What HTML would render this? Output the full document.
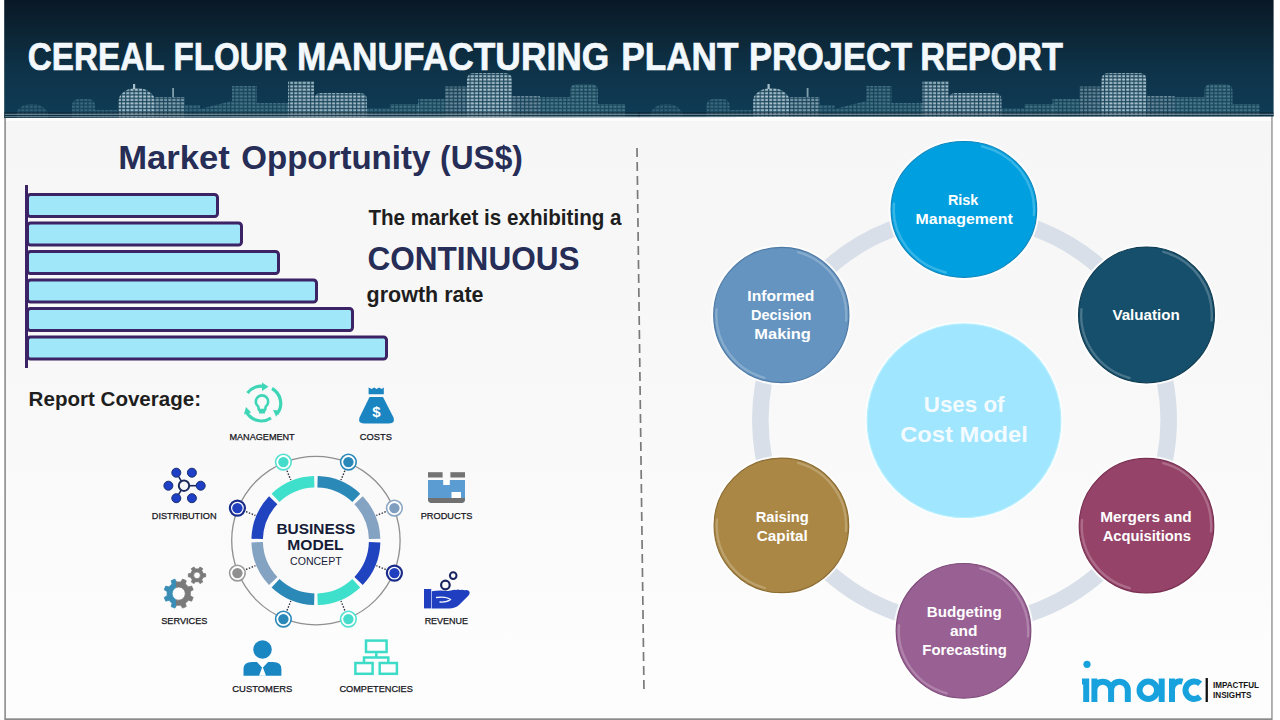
<!DOCTYPE html>
<html><head><meta charset="utf-8">
<style>
html,body{margin:0;padding:0;width:1280px;height:720px;overflow:hidden;background:#fff;}
svg{display:block;}
text{font-family:"Liberation Sans",sans-serif;}
</style></head>
<body>
<svg width="1280" height="720" viewBox="0 0 1280 720">


<defs><linearGradient id="bg" x1="0" y1="0" x2="0" y2="1">
<stop offset="0.15" stop-color="#f6f6f6"/><stop offset="0.5" stop-color="#f8f8f8"/><stop offset="0.8" stop-color="#fbfbfb"/><stop offset="0.9" stop-color="#fdfdfd"/></linearGradient></defs>
<rect x="5" y="0" width="1267" height="720" fill="url(#bg)"/>
<rect x="5" y="116" width="1267" height="5" fill="#fdfdfd"/>
<rect x="4.3" y="116" width="1.6" height="604" fill="#8c8c8c"/>
<rect x="1271.2" y="116" width="1.5" height="604" fill="#999"/>
<rect x="5" y="718.3" width="1267" height="1.7" fill="#8a8a8a"/>

<defs>
<linearGradient id="hdr" x1="0" y1="0" x2="0" y2="1">
  <stop offset="0" stop-color="#0a1826"/>
  <stop offset="0.3" stop-color="#0c2636"/>
  <stop offset="0.6" stop-color="#0e3349"/>
  <stop offset="1" stop-color="#0f3c56"/>
</linearGradient>
<pattern id="winB" x="0" y="0" width="4.2" height="3.4" patternUnits="userSpaceOnUse">
<rect width="4.2" height="3.4" fill="#3e6f82" opacity="0.4"/>
<rect x="0.3" y="0.4" width="3" height="1.9" fill="#d2e5ec"/>
</pattern>
<pattern id="winD" x="0" y="0" width="4.2" height="3.4" patternUnits="userSpaceOnUse">
<rect width="4.2" height="3.4" fill="#2f6676" opacity="0.5"/>
<rect x="0.3" y="0.4" width="3" height="1.9" fill="#7fb2bc"/>
</pattern>
</defs>
<path d="M4.2 0 H1273.6 V116.4 L4.2 117.9 Z" fill="url(#hdr)"/>
<clipPath id="hclip"><path d="M4.2 0 H1273.6 V116.4 L4.2 117.9 Z"/></clipPath>
<g clip-path="url(#hclip)">
<g id="skyl">
<path d="M16.0 118 V115.2 A16.0 11.2 0 0 1 48.0 115.2 V118 Z" fill="url(#winD)" opacity="0.34"/>
<path d="M72.0 118 V106.0 Q72.0 99.0 79.0 99.0 H88.0 Q95.0 99.0 95.0 106.0 V118 Z" fill="url(#winD)" opacity="0.42"/>
<path d="M95.0 118 V110.0 H118.0 V118 Z" fill="url(#winD)" opacity="0.42"/>
<path d="M118.7 118 V100.6 A18.0 12.6 0 0 1 154.7 100.6 V118 Z" fill="url(#winB)" opacity="0.85"/>
<path d="M155.0 118 V97.0 H185.0 V118 Z" fill="url(#winB)" opacity="0.65"/>
<path d="M185.0 118 V105.0 H200.0 V118 Z" fill="url(#winD)" opacity="0.42"/>
<path d="M200.0 118 V109.0 L232.0 101.0 V118 Z" fill="url(#winD)" opacity="0.47"/>
<path d="M232.0 118 V86.0 H257.0 V118 Z" fill="url(#winD)" opacity="0.52"/>
<path d="M257.0 118 V103.0 H288.0 V118 Z" fill="url(#winD)" opacity="0.50"/>
<path d="M288.0 118 V81.0 H314.0 V118 Z" fill="url(#winB)" opacity="0.80"/>
<path d="M314.0 118 V100.0 Q314.0 93.0 321.0 93.0 H360.0 Q367.0 93.0 367.0 100.0 V118 Z" fill="url(#winB)" opacity="0.80"/>
<path d="M367.0 118 V108.0 H390.0 V118 Z" fill="url(#winD)" opacity="0.47"/>
<path d="M390.0 118 V104.0 H420.0 V118 Z" fill="url(#winD)" opacity="0.50"/>
<path d="M418.0 118 V99.0 H445.0 V118 Z" fill="url(#winD)" opacity="0.52"/>
<path d="M445.0 118 V86.5 H467.0 V118 Z" fill="url(#winB)" opacity="0.50"/>
<path d="M467.0 118 V80.0 Q467.0 73.0 474.0 73.0 H505.0 Q512.0 73.0 512.0 80.0 V118 Z" fill="url(#winB)" opacity="0.85"/>
<path d="M512.0 118 V96.0 H540.0 V118 Z" fill="url(#winB)" opacity="0.50"/>
<path d="M540.0 118 V97.0 H570.0 V118 Z" fill="url(#winD)" opacity="0.57"/>
<path d="M570.0 118 V91.0 Q570.0 84.0 577.0 84.0 H591.0 Q598.0 84.0 598.0 91.0 V118 Z" fill="url(#winD)" opacity="0.57"/>
<path d="M598.0 118 V104.0 H625.0 V118 Z" fill="url(#winD)" opacity="0.52"/>
<rect x="133" y="84" width="2.2" height="5" fill="#cfe2ea" opacity="0.8"/>
<rect x="172.2" y="88" width="1.8" height="9" fill="#cfe2ea" opacity="0.6"/>
<rect x="4" y="112" width="636" height="6" fill="#0a1c28" opacity="0.45"/>
<rect x="5" y="113.8" width="635" height="1.2" fill="#a8c0cc" opacity="0.55"/>
<rect x="5" y="116" width="635" height="1.2" fill="#a8c0cc" opacity="0.5"/>
</g>
<use href="#skyl" x="634.5"/>
</g>

<text x="27.79" y="69.70" font-size="39" font-weight="bold" fill="#f2f8fb" textLength="136.75" lengthAdjust="spacingAndGlyphs" stroke="#f2f8fb" stroke-width="0.7">CEREAL</text>
<text x="173.45" y="69.70" font-size="39" font-weight="bold" fill="#f2f8fb" textLength="114.06" lengthAdjust="spacingAndGlyphs" stroke="#f2f8fb" stroke-width="0.7">FLOUR</text>
<text x="297.08" y="69.70" font-size="39" font-weight="bold" fill="#f2f8fb" textLength="312.16" lengthAdjust="spacingAndGlyphs" stroke="#f2f8fb" stroke-width="0.7">MANUFACTURING</text>
<text x="621.19" y="69.70" font-size="39" font-weight="bold" fill="#f2f8fb" textLength="117.31" lengthAdjust="spacingAndGlyphs" stroke="#f2f8fb" stroke-width="0.7">PLANT</text>
<text x="749.04" y="69.70" font-size="39" font-weight="bold" fill="#f2f8fb" textLength="163.04" lengthAdjust="spacingAndGlyphs" stroke="#f2f8fb" stroke-width="0.7">PROJECT</text>
<text x="920.16" y="69.70" font-size="39" font-weight="bold" fill="#f2f8fb" textLength="142.79" lengthAdjust="spacingAndGlyphs" stroke="#f2f8fb" stroke-width="0.7">REPORT</text>
<rect x="25" y="185" width="3" height="183" fill="#3b2366"/>
<g fill="#9fe7f9" stroke="#3b2366" stroke-width="3">
  <rect x="27.5" y="194.5" width="190" height="22" rx="3"/>
  <rect x="27.5" y="223" width="214" height="22" rx="3"/>
  <rect x="27.5" y="251.5" width="251" height="22" rx="3"/>
  <rect x="27.5" y="280" width="289" height="22" rx="3"/>
  <rect x="27.5" y="308.5" width="325" height="22" rx="3"/>
  <rect x="27.5" y="337" width="359" height="22" rx="3"/>
</g>
<line x1="637" y1="148" x2="644" y2="692" stroke="#7a7a7a" stroke-width="1.7" stroke-dasharray="9 5"/>

<text x="118.20" y="169.20" font-size="33" font-weight="bold" fill="#262d56" textLength="111.71" lengthAdjust="spacingAndGlyphs">Market</text>
<text x="241.30" y="169.20" font-size="33" font-weight="bold" fill="#262d56" textLength="189.01" lengthAdjust="spacingAndGlyphs">Opportunity</text>
<text x="440.08" y="169.20" font-size="33" font-weight="bold" fill="#262d56" textLength="82.76" lengthAdjust="spacingAndGlyphs">(US$)</text>
<text x="368.40" y="224.70" font-size="21.5" font-weight="bold" fill="#1e1e1e" textLength="253.14" lengthAdjust="spacingAndGlyphs">The market is exhibiting a</text>
<text x="367.44" y="269.60" font-size="33" font-weight="bold" fill="#262d56" textLength="212.16" lengthAdjust="spacingAndGlyphs">CONTINUOUS</text>
<text x="366.60" y="301.50" font-size="21.5" font-weight="bold" fill="#1e1e1e" textLength="116.98" lengthAdjust="spacingAndGlyphs">growth rate</text>
<text x="28.62" y="405.50" font-size="21" font-weight="bold" fill="#1e1e1e" textLength="172.43" lengthAdjust="spacingAndGlyphs">Report Coverage:</text>
<!-- business model -->
<g id="bm">
<circle cx="315.9" cy="540.6" r="84.2" fill="none" stroke="#8f8f8f" stroke-width="1.3"/>
<circle cx="315.9" cy="540.6" r="53" fill="#fafafa"/>
<g fill="none" stroke-width="11.5">
<path d="M317.54 481.87 A58.75 58.75 0 0 1 356.27 497.91" stroke="#2b89b7"/>
<path d="M358.59 500.23 A58.75 58.75 0 0 1 374.63 538.96" stroke="#84a2c1"/>
<path d="M374.63 542.24 A58.75 58.75 0 0 1 358.59 580.97" stroke="#2043c0"/>
<path d="M356.27 583.29 A58.75 58.75 0 0 1 317.54 599.33" stroke="#3fe0cb"/>
<path d="M314.26 599.33 A58.75 58.75 0 0 1 275.53 583.29" stroke="#2b89b7"/>
<path d="M273.21 580.97 A58.75 58.75 0 0 1 257.17 542.24" stroke="#84a2c1"/>
<path d="M257.17 538.96 A58.75 58.75 0 0 1 273.21 500.23" stroke="#2043c0"/>
<path d="M275.53 497.91 A58.75 58.75 0 0 1 314.26 481.87" stroke="#3fe0cb"/>
</g>
<line x1="344.8" y1="470.8" x2="341.0" y2="480.1" stroke="#2a2a3a" stroke-width="1.4" stroke-dasharray="1.4 1.6"/>
<circle cx="348.4" cy="462.1" r="7.80" fill="#fff" stroke="#2a88b8" stroke-width="1.6"/><circle cx="348.4" cy="462.1" r="5.2" fill="#2a88b8"/>
<line x1="385.7" y1="511.7" x2="376.4" y2="515.5" stroke="#2a2a3a" stroke-width="1.4" stroke-dasharray="1.4 1.6"/>
<circle cx="394.4" cy="508.1" r="7.80" fill="#fff" stroke="#8aa6c2" stroke-width="1.6"/><circle cx="394.4" cy="508.1" r="5.2" fill="#809fc0"/>
<line x1="385.7" y1="569.5" x2="376.4" y2="565.7" stroke="#2a2a3a" stroke-width="1.4" stroke-dasharray="1.4 1.6"/>
<circle cx="394.4" cy="573.1" r="7.50" fill="#fff" stroke="#1a2c8a" stroke-width="2.2"/><circle cx="394.4" cy="573.1" r="5.2" fill="#1f3fbf"/>
<line x1="344.8" y1="610.4" x2="341.0" y2="601.1" stroke="#2a2a3a" stroke-width="1.4" stroke-dasharray="1.4 1.6"/>
<circle cx="348.4" cy="619.1" r="7.80" fill="#fff" stroke="#52e0d0" stroke-width="1.6"/><circle cx="348.4" cy="619.1" r="5.2" fill="#45dccb"/>
<line x1="287.0" y1="610.4" x2="290.8" y2="601.1" stroke="#2a2a3a" stroke-width="1.4" stroke-dasharray="1.4 1.6"/>
<circle cx="283.4" cy="619.1" r="7.80" fill="#fff" stroke="#2a88b8" stroke-width="1.6"/><circle cx="283.4" cy="619.1" r="5.2" fill="#2a88b8"/>
<line x1="246.1" y1="569.5" x2="255.4" y2="565.7" stroke="#2a2a3a" stroke-width="1.4" stroke-dasharray="1.4 1.6"/>
<circle cx="237.4" cy="573.1" r="7.80" fill="#fff" stroke="#9a9a9a" stroke-width="1.6"/><circle cx="237.4" cy="573.1" r="5.2" fill="#8f8f8f"/>
<line x1="246.1" y1="511.7" x2="255.4" y2="515.5" stroke="#2a2a3a" stroke-width="1.4" stroke-dasharray="1.4 1.6"/>
<circle cx="237.4" cy="508.1" r="7.50" fill="#fff" stroke="#1a2c8a" stroke-width="2.2"/><circle cx="237.4" cy="508.1" r="5.2" fill="#1f3fbf"/>
<line x1="287.0" y1="470.8" x2="290.8" y2="480.1" stroke="#2a2a3a" stroke-width="1.4" stroke-dasharray="1.4 1.6"/>
<circle cx="283.4" cy="462.1" r="7.80" fill="#fff" stroke="#52e0d0" stroke-width="1.6"/><circle cx="283.4" cy="462.1" r="5.2" fill="#45dccb"/>
</g>
<!-- icons -->
<g id="icons">
<!-- management -->
<g fill="none" stroke="#3fd6b8" stroke-width="3.2" stroke-linecap="butt">
  <path d="M247.5 393 A17 17 0 0 1 265 386.7"/>
  <path d="M272 388.5 A17 17 0 0 1 277 414"/>
  <path d="M271 418 A17 17 0 0 1 246 411"/>
  <path d="M252.5 400.5 v0" />
</g>
<g fill="#3fd6b8">
  <path d="M262 382.5 l6.5 4.2 l-6.5 4.2 z"/>
  <path d="M273 410 l7.5 0.5 l-4.3 6.3 z"/>
  <path d="M244 414.5 l2 -7.5 l5.2 5.4 z"/>
</g>
<g fill="none" stroke="#3fd6b8" stroke-width="2.6">
  <path d="M258.2 406.5 A6.2 6.2 0 1 1 265.8 406.5 L265 410 H259 Z"/>
</g>
<rect x="259" y="411" width="6" height="2.5" fill="#3fd6b8"/>
<!-- costs bag -->
<path d="M368.6 387.5 l3 1.5 l2.5 -1.5 l2.5 1.5 l2.5 -1.5 l2.5 1.5 l2.2 -1.5 v6.8 h-15.2 z" fill="#1a85c1"/>
<path d="M369.5 397 H383 L393.5 417.5 Q395.5 423.4 389 423.4 H364 Q357.5 423.4 359.5 417.5 Z" fill="#1a85c1"/>
<text x="376.3" y="416.8" font-size="15" font-weight="bold" fill="#fff" text-anchor="middle">$</text>
<!-- distribution -->
<g stroke="#1a2b5c" stroke-width="1.6">
  <line x1="184" y1="485.7" x2="176.3" y2="472.7"/>
  <line x1="184" y1="485.7" x2="200.7" y2="485.7"/>
  <line x1="184" y1="485.7" x2="176.3" y2="498.2"/>
</g>
<g fill="#1f3fc6" stroke="#17306e" stroke-width="1">
  <circle cx="176.3" cy="472.7" r="4.5"/><circle cx="191.9" cy="472.7" r="4.5"/>
  <circle cx="168.4" cy="485.7" r="4.5"/><circle cx="200.7" cy="485.7" r="4.5"/>
  <circle cx="176.3" cy="498.2" r="4.5"/><circle cx="191.9" cy="498.2" r="4.5"/>
</g>
<circle cx="184" cy="485.7" r="5.2" fill="#f6f8fb" stroke="#1a2b5c" stroke-width="2"/>
<!-- products -->
<rect x="428" y="472.2" width="14.6" height="5.3" fill="#737373"/>
<rect x="450.4" y="472.2" width="14.6" height="5.3" fill="#737373"/>
<path d="M428 480 H465 V499 Q465 503 461 503 H432 Q428 503 428 499 Z" fill="#5b9cd2"/>
<path d="M428 498 H465 V499 Q465 503 461 503 H432 Q428 503 428 499 Z" fill="#707070"/>
<rect x="443.2" y="480" width="6.6" height="5" fill="#fff"/>
<rect x="451.5" y="492" width="9.5" height="6" fill="#fff"/>
<!-- services gears -->
<defs><clipPath id="gl"><rect x="160" y="575" width="16" height="40"/></clipPath><clipPath id="gr"><rect x="176" y="575" width="22" height="40"/></clipPath></defs>
<path d="M190.31 595.72 L193.20 597.44 L191.67 601.13 L188.41 600.31 L185.41 603.31 L186.23 606.57 L182.54 608.10 L180.82 605.21 L176.58 605.21 L174.86 608.10 L171.17 606.57 L171.99 603.31 L168.99 600.31 L165.73 601.13 L164.20 597.44 L167.09 595.72 L167.09 591.48 L164.20 589.76 L165.73 586.07 L168.99 586.89 L171.99 583.89 L171.17 580.63 L174.86 579.10 L176.58 581.99 L180.82 581.99 L182.54 579.10 L186.23 580.63 L185.41 583.89 L188.41 586.89 L191.67 586.07 L193.20 589.76 L190.31 591.48 Z M185.30 593.60 A6.60 6.60 0 1 0 172.10 593.60 A6.60 6.60 0 1 0 185.30 593.60 Z" fill="#3a8db4" fill-rule="evenodd" clip-path="url(#gl)" stroke="#3a8db4" stroke-width="0.8" stroke-linejoin="round"/>
<path d="M190.31 595.72 L193.20 597.44 L191.67 601.13 L188.41 600.31 L185.41 603.31 L186.23 606.57 L182.54 608.10 L180.82 605.21 L176.58 605.21 L174.86 608.10 L171.17 606.57 L171.99 603.31 L168.99 600.31 L165.73 601.13 L164.20 597.44 L167.09 595.72 L167.09 591.48 L164.20 589.76 L165.73 586.07 L168.99 586.89 L171.99 583.89 L171.17 580.63 L174.86 579.10 L176.58 581.99 L180.82 581.99 L182.54 579.10 L186.23 580.63 L185.41 583.89 L188.41 586.89 L191.67 586.07 L193.20 589.76 L190.31 591.48 Z M185.30 593.60 A6.60 6.60 0 1 0 172.10 593.60 A6.60 6.60 0 1 0 185.30 593.60 Z" fill="#7a7a7a" fill-rule="evenodd" clip-path="url(#gr)" stroke="#7a7a7a" stroke-width="0.8" stroke-linejoin="round"/>
<path d="M203.34 573.46 L205.66 573.74 L205.66 576.86 L203.34 577.14 L201.76 579.87 L202.68 582.02 L199.98 583.58 L198.57 581.71 L195.43 581.71 L194.02 583.58 L191.32 582.02 L192.24 579.87 L190.66 577.14 L188.34 576.86 L188.34 573.74 L190.66 573.46 L192.24 570.73 L191.32 568.58 L194.02 567.02 L195.43 568.89 L198.57 568.89 L199.98 567.02 L202.68 568.58 L201.76 570.73 Z M200.40 575.30 A3.40 3.40 0 1 0 193.60 575.30 A3.40 3.40 0 1 0 200.40 575.30 Z" fill="#7a7a7a" fill-rule="evenodd" stroke="#7a7a7a" stroke-width="0.8" stroke-linejoin="round"/>
<!-- revenue hand -->
<rect x="424" y="589" width="7.2" height="19.4" fill="#1f3fc0"/>
<path d="M431.8 591.2 Q440 589.8 448 591 L452 590.2 Q454 589.2 456 590 Q458 589 460 590 Q462.5 589.2 464.5 590.3 Q467 589.6 469 591 Q470.5 593 468.5 595.5 L459 605 Q455.5 608.4 449 608.4 H431.8 Z" fill="#1f3fc0"/>
<path d="M436.5 597.5 Q446 596 450.5 599.5 Q447 602.5 440 602" fill="none" stroke="#f4f6fb" stroke-width="1.3" stroke-linecap="round"/>
<circle cx="445.4" cy="585" r="4.3" fill="none" stroke="#1a2560" stroke-width="2.2"/>
<circle cx="453.2" cy="575.6" r="3.3" fill="none" stroke="#1a2560" stroke-width="2"/>
<!-- customers -->
<circle cx="262.5" cy="649.5" r="9.3" fill="#1b87c2"/>
<path d="M243.5 675.7 V669 Q243.5 662 252 662 H273 Q281.4 662 281.4 669 V675.7 Z" fill="#1b87c2"/>
<path d="M256.5 661.5 L262.5 668 L268.5 661.5 Z M262.5 666.5 L259 675.8 H266 Z" fill="#fff"/>
<!-- competencies -->
<g fill="none" stroke="#3ddcc8" stroke-width="2.5">
  <rect x="366" y="640.6" width="20.6" height="11.4"/>
  <rect x="355.4" y="663" width="17.2" height="10.8"/>
  <rect x="379.7" y="663" width="17.2" height="10.8"/>
  <path d="M376.3 652 V657.5 M364 663 V657.5 H388.3 V663"/>
</g>
<!-- labels -->

</g>

<text x="276.47" y="533.60" font-size="15" font-weight="bold" fill="#161c38" textLength="78.83" lengthAdjust="spacingAndGlyphs">BUSINESS</text>
<text x="287.26" y="550.30" font-size="15" font-weight="bold" fill="#161c38" textLength="56.42" lengthAdjust="spacingAndGlyphs">MODEL</text>
<text x="290.06" y="564.80" font-size="11.2" fill="#161c38" textLength="51.61" lengthAdjust="spacingAndGlyphs">CONCEPT</text>
<text x="229.43" y="439.60" font-size="9.4" fill="#151520" textLength="65.27" lengthAdjust="spacingAndGlyphs" stroke="#151520" stroke-width="0.25">MANAGEMENT</text>
<text x="359.81" y="439.60" font-size="9.4" fill="#151520" textLength="32.09" lengthAdjust="spacingAndGlyphs" stroke="#151520" stroke-width="0.25">COSTS</text>
<text x="151.82" y="518.50" font-size="9.4" fill="#151520" textLength="64.73" lengthAdjust="spacingAndGlyphs" stroke="#151520" stroke-width="0.25">DISTRIBUTION</text>
<text x="420.72" y="518.90" font-size="9.4" fill="#151520" textLength="51.68" lengthAdjust="spacingAndGlyphs" stroke="#151520" stroke-width="0.25">PRODUCTS</text>
<text x="161.22" y="624.40" font-size="9.4" fill="#151520" textLength="46.22" lengthAdjust="spacingAndGlyphs" stroke="#151520" stroke-width="0.25">SERVICES</text>
<text x="424.64" y="624.00" font-size="9.4" fill="#151520" textLength="43.47" lengthAdjust="spacingAndGlyphs" stroke="#151520" stroke-width="0.25">REVENUE</text>
<text x="232.29" y="691.80" font-size="9.4" fill="#151520" textLength="60.04" lengthAdjust="spacingAndGlyphs" stroke="#151520" stroke-width="0.25">CUSTOMERS</text>
<text x="339.42" y="691.80" font-size="9.4" fill="#151520" textLength="73.39" lengthAdjust="spacingAndGlyphs" stroke="#151520" stroke-width="0.25">COMPETENCIES</text>
<!-- right diagram -->
<circle cx="964.5" cy="420" r="204.2" fill="none" stroke="#d8dfe8" stroke-width="16.5"/>
<circle cx="964" cy="420.7" r="98" fill="none" stroke="#fbfeff" stroke-width="2"/>
<circle cx="964" cy="420.7" r="96.8" fill="#a0e6fe" stroke="#b4eeff" stroke-width="1.2"/>
<ellipse cx="963.9" cy="209.4" rx="74.30" ry="69.40" fill="none" stroke="#ffffff" stroke-opacity="0.8" stroke-width="2.2"/>
<ellipse cx="963.9" cy="209.4" rx="72.80" ry="67.90" fill="#00a0e0" stroke="#0b86bd" stroke-width="1.2"/>
<path d="M982.07 146.33 A70.20 65.30 0 0 1 1033.83 215.09" fill="none" stroke="#fff" stroke-opacity="0.22" stroke-width="2.4" stroke-linecap="round"/>
<path d="M945.73 272.47 A70.20 65.30 0 0 1 893.97 203.71" fill="none" stroke="#fff" stroke-opacity="0.22" stroke-width="2.4" stroke-linecap="round"/>
<ellipse cx="1146.5" cy="314.9" rx="69.40" ry="69.40" fill="none" stroke="#ffffff" stroke-opacity="0.8" stroke-width="2.2"/>
<ellipse cx="1146.5" cy="314.9" rx="67.90" ry="67.90" fill="#154f6b" stroke="#0d3a50" stroke-width="1.2"/>
<path d="M1163.40 251.83 A65.30 65.30 0 0 1 1211.55 320.59" fill="none" stroke="#fff" stroke-opacity="0.22" stroke-width="2.4" stroke-linecap="round"/>
<path d="M1129.60 377.97 A65.30 65.30 0 0 1 1081.45 309.21" fill="none" stroke="#fff" stroke-opacity="0.22" stroke-width="2.4" stroke-linecap="round"/>
<ellipse cx="1146.5" cy="525.7" rx="68.80" ry="68.80" fill="none" stroke="#ffffff" stroke-opacity="0.8" stroke-width="2.2"/>
<ellipse cx="1146.5" cy="525.7" rx="67.30" ry="67.30" fill="#954368" stroke="#7a3052" stroke-width="1.2"/>
<path d="M1163.25 463.20 A64.70 64.70 0 0 1 1210.95 531.34" fill="none" stroke="#fff" stroke-opacity="0.22" stroke-width="2.4" stroke-linecap="round"/>
<path d="M1129.75 588.20 A64.70 64.70 0 0 1 1082.05 520.06" fill="none" stroke="#fff" stroke-opacity="0.22" stroke-width="2.4" stroke-linecap="round"/>
<ellipse cx="963.5" cy="630.8" rx="68.80" ry="68.80" fill="none" stroke="#ffffff" stroke-opacity="0.8" stroke-width="2.2"/>
<ellipse cx="963.5" cy="630.8" rx="67.30" ry="67.30" fill="#996093" stroke="#7e4a79" stroke-width="1.2"/>
<path d="M980.25 568.30 A64.70 64.70 0 0 1 1027.95 636.44" fill="none" stroke="#fff" stroke-opacity="0.22" stroke-width="2.4" stroke-linecap="round"/>
<path d="M946.75 693.30 A64.70 64.70 0 0 1 899.05 625.16" fill="none" stroke="#fff" stroke-opacity="0.22" stroke-width="2.4" stroke-linecap="round"/>
<ellipse cx="781.4" cy="525.4" rx="68.80" ry="68.80" fill="none" stroke="#ffffff" stroke-opacity="0.8" stroke-width="2.2"/>
<ellipse cx="781.4" cy="525.4" rx="67.30" ry="67.30" fill="#aa8744" stroke="#8c6d33" stroke-width="1.2"/>
<path d="M798.15 462.90 A64.70 64.70 0 0 1 845.85 531.04" fill="none" stroke="#fff" stroke-opacity="0.22" stroke-width="2.4" stroke-linecap="round"/>
<path d="M764.65 587.90 A64.70 64.70 0 0 1 716.95 519.76" fill="none" stroke="#fff" stroke-opacity="0.22" stroke-width="2.4" stroke-linecap="round"/>
<ellipse cx="781.3" cy="315.0" rx="69.10" ry="69.10" fill="none" stroke="#ffffff" stroke-opacity="0.8" stroke-width="2.2"/>
<ellipse cx="781.3" cy="315.0" rx="67.60" ry="67.60" fill="#6494bf" stroke="#4f7aa6" stroke-width="1.2"/>
<path d="M798.12 252.21 A65.00 65.00 0 0 1 846.05 320.67" fill="none" stroke="#fff" stroke-opacity="0.22" stroke-width="2.4" stroke-linecap="round"/>
<path d="M764.48 377.79 A65.00 65.00 0 0 1 716.55 309.33" fill="none" stroke="#fff" stroke-opacity="0.22" stroke-width="2.4" stroke-linecap="round"/>

<text x="947.90" y="204.90" font-size="14.5" font-weight="bold" fill="#ffffff" textLength="30.53" lengthAdjust="spacingAndGlyphs">Risk</text>
<text x="915.60" y="223.80" font-size="14.5" font-weight="bold" fill="#ffffff" textLength="97.10" lengthAdjust="spacingAndGlyphs">Management</text>
<text x="1112.40" y="320.30" font-size="14.5" font-weight="bold" fill="#ffffff" textLength="67.39" lengthAdjust="spacingAndGlyphs">Valuation</text>
<text x="747.32" y="300.50" font-size="14.5" font-weight="bold" fill="#ffffff" textLength="67.10" lengthAdjust="spacingAndGlyphs">Informed</text>
<text x="751.00" y="319.80" font-size="14.5" font-weight="bold" fill="#ffffff" textLength="60.44" lengthAdjust="spacingAndGlyphs">Decision</text>
<text x="754.37" y="339.10" font-size="14.5" font-weight="bold" fill="#ffffff" textLength="56.51" lengthAdjust="spacingAndGlyphs">Making</text>
<text x="755.69" y="522.00" font-size="14.5" font-weight="bold" fill="#ffffff" textLength="53.11" lengthAdjust="spacingAndGlyphs">Raising</text>
<text x="756.85" y="540.70" font-size="14.5" font-weight="bold" fill="#ffffff" textLength="50.87" lengthAdjust="spacingAndGlyphs">Capital</text>
<text x="1100.24" y="522.00" font-size="14.5" font-weight="bold" fill="#ffffff" textLength="91.47" lengthAdjust="spacingAndGlyphs">Mergers and</text>
<text x="1102.68" y="540.90" font-size="14.5" font-weight="bold" fill="#ffffff" textLength="88.33" lengthAdjust="spacingAndGlyphs">Acquisitions</text>
<text x="926.75" y="617.20" font-size="14.5" font-weight="bold" fill="#ffffff" textLength="74.96" lengthAdjust="spacingAndGlyphs">Budgeting</text>
<text x="950.00" y="636.00" font-size="14.5" font-weight="bold" fill="#ffffff" textLength="27.53" lengthAdjust="spacingAndGlyphs">and</text>
<text x="922.27" y="654.90" font-size="14.5" font-weight="bold" fill="#ffffff" textLength="84.55" lengthAdjust="spacingAndGlyphs">Forecasting</text>
<text x="923.81" y="412.30" font-size="22.5" font-weight="bold" fill="#f4fbff" textLength="80.67" lengthAdjust="spacingAndGlyphs">Uses of</text>
<text x="900.25" y="442.00" font-size="22.5" font-weight="bold" fill="#f4fbff" textLength="127.57" lengthAdjust="spacingAndGlyphs">Cost Model</text>
<!-- logo -->
<g fill="none" stroke="#18a2dd" stroke-width="6">
<circle cx="1087" cy="664.3" r="3.6" fill="#18a2dd" stroke="none"/>
<path d="M1082 681.5 H1086.2 V702"/>
<path d="M1094.4 702 V678.5 M1094.4 690 A8.35 8.35 0 0 1 1111.1 690 V702 M1111.1 690 A8.35 8.35 0 0 1 1127.8 690 V702"/>
<circle cx="1148.3" cy="690.25" r="8.75"/>
<path d="M1161.7 678.5 V702"/>
<path d="M1172 702 V678.5 M1172 689 A8.2 8.2 0 0 1 1182.5 681.6"/>
<path d="M1200.15 683.75 A8.75 8.75 0 1 0 1200.15 696.75"/>
</g>
<rect x="1205.6" y="678" width="2.3" height="24" fill="#111"/>
<text x="1213" y="688.3" font-size="9.4" font-weight="bold" fill="#151515" textLength="46" lengthAdjust="spacingAndGlyphs">IMPACTFUL</text>
<text x="1213" y="697.8" font-size="9.4" font-weight="bold" fill="#151515" textLength="38.5" lengthAdjust="spacingAndGlyphs">INSIGHTS</text>

</svg>
</body></html>
